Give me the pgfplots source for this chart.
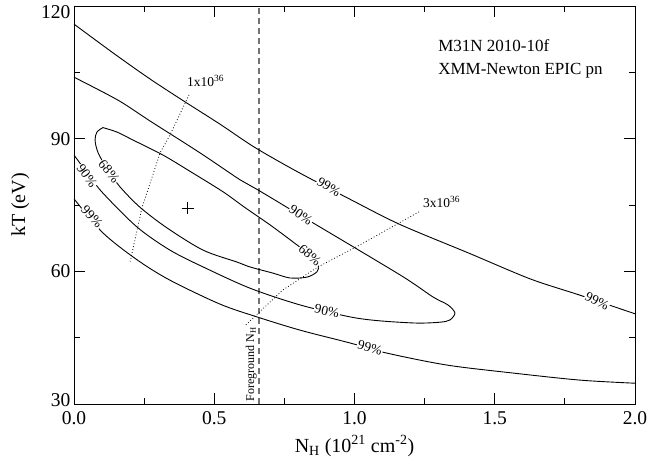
\documentclass[border=0pt]{standalone}
\usepackage{fontspec}
\setmainfont{Liberation Serif}
\usepackage{pgfplots}
\pgfplotsset{compat=1.18}
\tikzset{
  lab/.style={font=\fontsize{13.5bp}{16bp}\selectfont, fill=white, inner sep=0.8bp},
  cont/.style={black, line width=0.9bp, smooth, tension=0.5},
}
\begin{document}
\begin{tikzpicture}
\begin{axis}[
  at={(0,0)}, anchor=south west,
  scale only axis, width=561bp, height=398bp,
  xmin=0, xmax=2, ymin=30, ymax=120,
  xtick={0,0.5,1,1.5,2}, xticklabels={0.0,0.5,1.0,1.5,2.0},
  ytick={30,60,90,120}, yticklabels={\raisebox{4bp}[13bp][0bp]{30},60,90,\raisebox{-6bp}[13bp][0bp]{120}},
  minor x tick num=1, minor y tick num=1,
  tick align=inside,
  major tick length=11bp, minor tick length=6bp,
  every tick/.style={black, line width=0.8bp},
  axis line style={black, line width=0.8bp},
  ticklabel style={font=\fontsize{19.5bp}{22bp}\selectfont},
  xticklabel style={yshift=-4bp},
  xlabel={N\textsubscript{H} (10\textsuperscript{21} cm\textsuperscript{-2})},
  ylabel={kT (eV)},
  label style={font=\fontsize{20bp}{24bp}\selectfont},
  xlabel style={at={(axis description cs:0.5,-0.1206)}, anchor=base},
  ylabel style={at={(axis description cs:-0.0873,0.5)}, anchor=base},
  clip mode=individual,
]
% foreground NH
\addplot[black!55, line width=1.3bp, dash pattern=on 6bp off 4bp] coordinates {(0.66,30) (0.66,120)};
% 99% contour, upper branch
\addplot[cont] coordinates {(0,115.9) (0.15,108.9) (0.271,103.5) (0.389,98.6) (0.52,93.3) (0.645,88.0) (0.80,82.4) (0.984,76.3) (1.162,70.6) (1.412,64.0) (1.626,58.3) (1.804,54.6) (2.0,50.4)};
% 99% contour, lower branch
\addplot[cont] coordinates {(0,76.4) (0.103,68.7) (0.225,62.6) (0.342,58.0) (0.520,52.6) (0.652,49.7) (0.806,46.7) (0.984,43.8) (1.116,41.5) (1.330,38.8) (1.565,37.0) (1.804,35.4) (2.0,34.7)};
% 90% contour
\addplot[cont] coordinates {(0,103.9) (0.157,98.7) (0.271,94.0) (0.449,86.8) (0.592,80.7) (0.656,78.4) (0.806,72.7) (1.002,65.3) (1.180,58.5) (1.280,54.2) (1.333,52.4) (1.358,50.6) (1.340,49.0) (1.305,48.5) (1.223,48.3) (1.091,48.8) (0.984,49.7) (0.806,52.4) (0.627,56.2) (0.460,61.0) (0.342,64.8) (0.225,70.0) (0.103,77.7) (0.050,82.0) (0,86.3)};
% 68% contour
\addplot[cont] coordinates {(0.103,92.5) (0.153,91.5) (0.210,89.7) (0.317,86.3) (0.414,82.6) (0.531,78.0) (0.610,74.4) (0.699,70.5) (0.788,66.3) (0.841,63.7) (0.870,61.4) (0.866,59.9) (0.831,58.7) (0.770,58.5) (0.709,59.6) (0.627,61.0) (0.581,62.1) (0.460,64.8) (0.332,69.8) (0.235,74.5) (0.164,79.1) (0.121,82.9) (0.086,86.8) (0.075,89.7) (0.082,91.5) (0.103,92.5)};
% luminosity lines
\addplot[black, line width=0.8bp, dash pattern=on 0.8bp off 2.2bp] coordinates {(0.410,99.9) (0.342,90.8) (0.307,86.8) (0.242,74.3) (0.200,62.1)};
\addplot[black, line width=0.8bp, dash pattern=on 0.8bp off 2.2bp] coordinates {(0.613,47.9) (0.745,55.8) (0.870,61.0) (1.020,66.0) (1.234,73.6)};
% best fit
\addplot[only marks, mark=+, mark size=6bp, black, line width=0.9bp] coordinates {(0.405,74.3)};
% contour labels
\node[lab, rotate=-50] at (axis cs:0.125,82.6) {68\%};
\node[lab, rotate=-54] at (axis cs:0.046,81.6) {90\%};
\node[lab, rotate=-47] at (axis cs:0.064,72.3) {99\%};
\node[lab, rotate=-31] at (axis cs:0.909,79.1) {99\%};
\node[lab, rotate=-34] at (axis cs:0.809,72.7) {90\%};
\node[lab, rotate=-40] at (axis cs:0.841,63.7) {68\%};
\node[lab, rotate=-12] at (axis cs:0.902,51.0) {90\%};
\node[lab, rotate=-15] at (axis cs:1.055,42.7) {99\%};
\node[lab, rotate=-27] at (axis cs:1.865,53.3) {99\%};
% annotations
\node[anchor=west, inner sep=0pt, font=\fontsize{13.5bp}{16bp}\selectfont] at (axis cs:0.403,103.0) {1x10\textsuperscript{36}};
\node[anchor=west, inner sep=0pt, font=\fontsize{13.5bp}{16bp}\selectfont] at (axis cs:1.244,75.7) {3x10\textsuperscript{36}};
\node[rotate=90, anchor=base west, inner sep=0pt, font=\fontsize{12bp}{14bp}\selectfont] at (axis cs:0.642,30.5) {Foreground N\textsubscript{H}};
\node[anchor=base west, inner sep=0pt, font=\fontsize{17bp}{20bp}\selectfont] at (axis cs:1.298,109.7) {M31N 2010-10f};
\node[anchor=base west, inner sep=0pt, font=\fontsize{17bp}{20bp}\selectfont] at (axis cs:1.298,104.6) {XMM-Newton EPIC pn};
\end{axis}
\pgfresetboundingbox
\path (-74bp,-57bp) rectangle (574bp,404bp);
\end{tikzpicture}
\end{document}
